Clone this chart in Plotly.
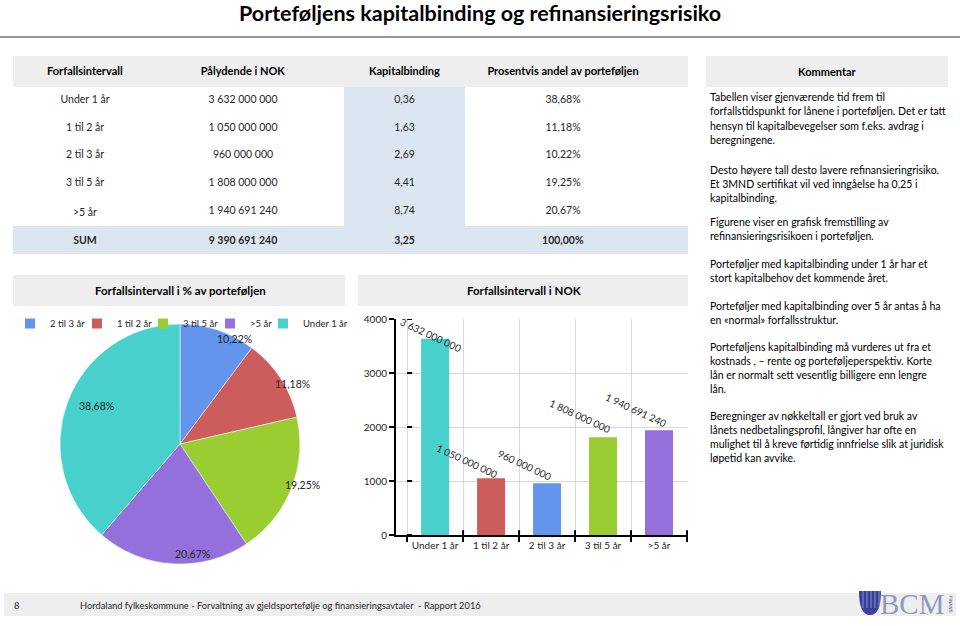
import math
import plotly.graph_objects as go

W, H = 960, 626
FONT = "Lato"


def px(x):
    return x / W


def py(y):
    return 1 - y / H


# ---------------- data ----------------
title = "Porteføljens kapitalbinding og refinansieringsrisiko"
headers = ["Forfallsintervall", "Pålydende i NOK", "Kapitalbinding", "Prosentvis andel av porteføljen"]
intervals = ["Under 1 år", "1 til 2 år", "2 til 3 år", "3 til 5 år", ">5 år"]
palydende = ["3 632 000 000", "1 050 000 000", "960 000 000", "1 808 000 000", "1 940 691 240"]
kapitalbinding = ["0,36", "1,63", "2,69", "4,41", "8,74"]
andel = ["38,68%", "11,18%", "10,22%", "19,25%", "20,67%"]
sum_row = ["SUM", "9 390 691 240", "3,25", "100,00%"]

nok_millions = [3632.0, 1050.0, 960.0, 1808.0, 1940.69124]
y_ticks = [0, 1000, 2000, 3000, 4000]

pie_labels = ["2 til 3 år", "1 til 2 år", "3 til 5 år", ">5 år", "Under 1 år"]
pie_values = [10.22, 11.18, 19.25, 20.67, 38.68]
pie_text = ["10,22%", "11,18%", "19,25%", "20,67%", "38,68%"]

pie_title = "Forfallsintervall i % av porteføljen"
bar_title = "Forfallsintervall i NOK"
comment_title = "Kommentar"
comment_lines = [
    "Tabellen viser gjenværende tid frem til",
    "forfallstidspunkt for lånene i porteføljen. Det er tatt",
    "hensyn til kapitalbevegelser som f.eks. avdrag i",
    "beregningene.",
    "Desto høyere tall desto lavere refinansieringrisiko.",
    "Et 3MND sertifikat vil ved inngåelse ha 0,25 i",
    "kapitalbinding.",
    "Figurene viser en grafisk fremstilling av",
    "refinansieringsrisikoen i porteføljen.",
    "Porteføljer med kapitalbinding under 1 år har et",
    "stort kapitalbehov det kommende året.",
    "Porteføljer med kapitalbinding over 5 år antas å ha",
    "en «normal» forfallsstruktur.",
    "Porteføljens kapitalbinding må vurderes ut fra et",
    "kostnads , – rente og porteføljeperspektiv. Korte",
    "lån er normalt sett vesentlig billigere enn lengre",
    "lån.",
    "Beregninger av nøkkeltall er gjort ved bruk av",
    "lånets nedbetalingsprofil, långiver har ofte en",
    "mulighet til å kreve førtidig innfrielse slik at juridisk",
    "løpetid kan avvike.",
]
footer_page = "8"
footer_text = "Hordaland fylkeskommune - Forvaltning av gjeldsportefølje og finansieringsavtaler  - Rapport 2016"

# ---------------- style ----------------
COLORS = {
    "Under 1 år": "#48D1CC",
    "1 til 2 år": "#CD5C5C",
    "2 til 3 år": "#6495ED",
    "3 til 5 år": "#9ACD32",
    ">5 år": "#9370DB",
}
GRAY = "#eeeeee"
BLUE = "#dce6f1"
TXT = "#262626"
comment_y = [97, 111, 126, 140, 170, 184, 198, 222, 236, 264, 278, 306, 320,
             347, 361, 375, 389, 416, 430, 444, 458]
bar_label_shift = [(-4, 4), (-24, 17), (-22, 18), (-23, 21), (-23, 20)]
legend_widths = [22, 21, 22, 8, 45]

fig = go.Figure()

# ---------------- table ----------------
white = "white"
n = len(intervals)
col_fill = lambda base: [base] * n + [BLUE]
fig.add_trace(go.Table(
    domain=dict(x=[px(13), px(688)], y=[py(254), py(56)]),
    columnwidth=[144, 172, 15, 121, 196, 27],
    header=dict(
        values=["<b>%s</b>" % headers[0], "<b>%s</b>" % headers[1], "",
                "<b>%s</b>" % headers[2], "<b>%s</b>" % headers[3], ""],
        fill_color=GRAY, line=dict(width=0, color=GRAY), align="center",
        font=dict(family=FONT, size=11, color="black"), height=31,
    ),
    cells=dict(
        values=[intervals + ["<b>%s</b>" % sum_row[0]],
                palydende + ["<b>%s</b>" % sum_row[1]],
                [""] * (n + 1),
                kapitalbinding + ["<b>%s</b>" % sum_row[2]],
                andel + ["<b>%s</b>" % sum_row[3]],
                [""] * (n + 1)],
        fill_color=[col_fill(white), col_fill(white), col_fill(white),
                    [BLUE] * (n + 1), col_fill(white), col_fill(white)],
        line=dict(width=0, color="rgba(0,0,0,0)"), align="center",
        font=dict(family=FONT, size=10.5, color=TXT), height=27.7,
    ),
))

# ---------------- pie ----------------
cx, cy, r = 180, 444, 120
fig.add_trace(go.Pie(
    labels=pie_labels, values=pie_values, sort=False, direction="clockwise",
    rotation=0, textinfo="none", textposition="none",
    marker=dict(colors=[COLORS[l] for l in pie_labels], line=dict(color="white", width=0.5)),
    domain=dict(x=[px(cx - r), px(cx + r)], y=[py(cy + r), py(cy - r)]),
    showlegend=False,
))
# legend entries for the pie categories (hidden helper axes)
for lab, lw in zip(pie_labels, legend_widths):
    fig.add_trace(go.Scatter(
        x=[None], y=[None], mode="markers", name=lab, legendwidth=lw,
        marker=dict(symbol="square", size=10, color=COLORS[lab]),
        xaxis="x2", yaxis="y2", showlegend=True, hoverinfo="skip",
    ))

annotations = []
total = sum(pie_values)
cum = 0.0
for v, t in zip(pie_values, pie_text):
    mid = (cum + v / 2) / total * 2 * math.pi
    cum += v
    lx = cx + 0.92 * r * math.sin(mid)
    ly = cy - 0.92 * r * math.cos(mid)
    annotations.append(dict(x=px(lx), y=py(ly), xref="paper", yref="paper", text=t,
                            yanchor="middle", showarrow=False,
                            font=dict(family=FONT, size=10.5, color=TXT)))

# ---------------- bars ----------------
fig.add_trace(go.Bar(
    x=intervals, y=nok_millions, width=0.5,
    marker=dict(color=[COLORS[c] for c in intervals], line=dict(width=0)),
    showlegend=False, xaxis="x", yaxis="y",
))
for c, v, lab, (sx, sy) in zip(intervals, nok_millions, palydende, bar_label_shift):
    annotations.append(dict(x=c, y=v, xref="x", yref="y", text=lab, textangle=25,
                            showarrow=False, xshift=sx, yshift=sy,
                            font=dict(family=FONT, size=10, color=TXT)))


def ann(x, y, text, size, color="black", xanchor="center", family=FONT, **kw):
    annotations.append(dict(x=px(x), y=py(y), xref="paper", yref="paper", text=text,
                            xanchor=xanchor, yanchor="middle", showarrow=False,
                            font=dict(family=family, size=size, color=color), **kw))


ann(480, 13, "<b>%s</b>" % title, 21.5)
ann(827, 72, "<b>%s</b>" % comment_title, 11)
ann(180, 290, "<b>%s</b>" % pie_title, 11.5)
ann(524, 290, "<b>%s</b>" % bar_title, 11.5)
for line, yy in zip(comment_lines, comment_y):
    ann(708, yy, line, 10.5, xanchor="left")
ann(12, 605, footer_page, 9.5, color=TXT, xanchor="left")
ann(78, 605, footer_text, 9.3, color=TXT, xanchor="left")
ann(912, 604, "BCM", 29, color="#8e99be", family="Liberation Serif")
ann(951, 604, "FINANS", 4.5, color="#555577", family="DejaVu Sans", textangle=90)

# ---------------- shapes ----------------
shapes = []


def rect(x0, y0, x1, y1, color):
    shapes.append(dict(type="rect", xref="paper", yref="paper", x0=px(x0), x1=px(x1),
                       y0=py(y1), y1=py(y0), fillcolor=color, line=dict(width=0), layer="below"))


shapes.append(dict(type="line", xref="paper", yref="paper", x0=0, x1=1, y0=py(37), y1=py(37),
                   line=dict(color="#333333", width=1.2)))
rect(706, 56, 948, 87, GRAY)
rect(13, 275, 345, 306, GRAY)
rect(358, 275, 688, 306, GRAY)
rect(4, 593, 956, 616, GRAY)
# logo emblem
shapes.append(dict(type="path", xref="paper", yref="paper",
                   path="M %f %f L %f %f Q %f %f %f %f Q %f %f %f %f Z" % (
                       px(859), py(591), px(881), py(591), px(881), py(615), px(870), py(615),
                       px(859), py(615), px(859), py(591)),
                   fillcolor="#3b3f9c", line=dict(width=0)))
for sx in [863, 867, 871, 875, 879]:
    shapes.append(dict(type="line", xref="paper", yref="paper", x0=px(sx), x1=px(sx),
                       y0=py(608), y1=py(591), line=dict(color="#9da3d6", width=0.8)))

# inner halves of crossing ticks
for k in range(len(intervals)):
    shapes.append(dict(type="line", xref="x", yref="y", x0=k + 0.5, x1=k + 0.5, y0=0, y1=90,
                       line=dict(color="black", width=2)))
for t in y_ticks:
    shapes.append(dict(type="line", xref="x", yref="y", x0=-0.5, x1=-0.41, y0=t, y1=t,
                       line=dict(color="black", width=2)))

fig.update_layout(
    width=W, height=H, autosize=False,
    margin=dict(l=0, r=0, t=0, b=0, pad=0, autoexpand=False),
    paper_bgcolor="white", plot_bgcolor="white",
    font=dict(family=FONT, size=10, color=TXT),
    showlegend=True,
    legend=dict(orientation="h", x=px(10), y=py(309), xanchor="left", yanchor="top",
                itemwidth=30,
                font=dict(family=FONT, size=9.5, color=TXT), bgcolor="rgba(0,0,0,0)",
                traceorder="normal"),
    xaxis=dict(domain=[px(396), px(688)], anchor="y", type="category",
               showline=True, linecolor="black", linewidth=2,
               ticks="outside", tickson="boundaries", ticklen=5, tickwidth=2, tickcolor="black",
               showgrid=True, gridcolor="#d9d9d9", gridwidth=1, tickangle=0, automargin=False,
               tickfont=dict(family=FONT, size=10, color=TXT), fixedrange=True),
    yaxis=dict(domain=[py(535), py(319)], anchor="x", range=[0, 4000], tickvals=y_ticks,
               showline=True, linecolor="black", linewidth=2,
               ticks="outside", ticklen=5, tickwidth=2, tickcolor="black", automargin=False,
               showgrid=True, gridcolor="#d9d9d9", gridwidth=1, zeroline=False,
               tickfont=dict(family=FONT, size=10, color=TXT), fixedrange=True),
    xaxis2=dict(visible=False, domain=[0, 0.01], anchor="y2", automargin=False),
    yaxis2=dict(visible=False, domain=[0, 0.01], anchor="x2", automargin=False),
    annotations=annotations,
    shapes=shapes,
)

fig.write_html("out.html", config={"displayModeBar": False},
               post_script="document.body.style.margin='0';")
